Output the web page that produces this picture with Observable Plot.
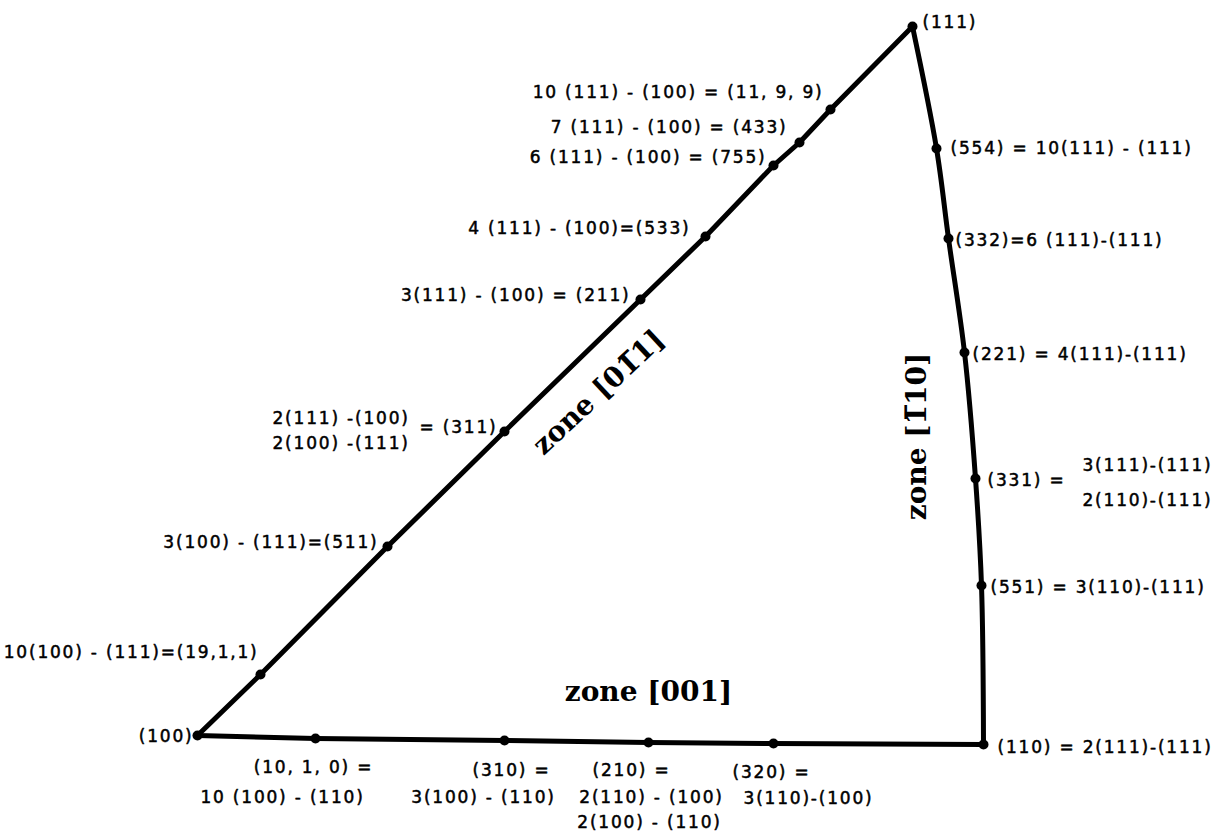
<!DOCTYPE html>
<html>
<head>
<meta charset="utf-8">
<script src="https://cdn.jsdelivr.net/npm/d3@7"></script>
<script src="https://cdn.jsdelivr.net/npm/@observablehq/plot@0.6"></script>
<style>
  html, body { margin: 0; padding: 0; background: #fff; }
  .lbl text { letter-spacing: 1.8px; }
  .zone text { letter-spacing: 0; }
</style>
</head>
<body>
<div id="chart"></div>
<script>
// Poles (stereographic positions, in picture units)
const poleName = ["(100)","(19,1,1)","(511)","(311)","(211)","(533)","(755)","(433)","(11,9,9)","(111)",
                  "(554)","(332)","(221)","(331)","(551)","(110)",
                  "(320)","(210)","(310)","(10,1,0)"];
const poleX = [197, 260, 387, 504, 640, 705, 773, 799, 830, 912,
               936, 948, 964, 975, 981, 983,
               773, 648, 504, 315];
const poleY = [735, 674, 546, 431, 299, 236, 165, 142, 109, 26,
               148, 238, 352, 478, 585, 744,
               743, 742, 740, 738];

// Zones: ordered pole lists
const zone011 = ["(100)","(19,1,1)","(511)","(311)","(211)","(533)","(755)","(433)","(11,9,9)","(111)"];
const zone110 = ["(111)","(554)","(332)","(221)","(331)","(551)","(110)"];
const zone001 = ["(100)","(10,1,0)","(310)","(210)","(320)","(110)"];

// Annotation labels
const labelText = [
  "10 (111) - (100) = (11, 9, 9)",
  "7 (111) - (100) = (433)",
  "6 (111) - (100) = (755)",
  "4 (111) - (100)=(533)",
  "3(111) - (100) = (211)",
  "= (311)",
  "3(100) - (111)=(511)",
  "10(100) - (111)=(19,1,1)",
  "(100)",
  "2(111) -(100)",
  "2(100) -(111)",
  "(111)",
  "(554) = 10(111) - (111)",
  "(332)=6 (111)-(111)",
  "(221) = 4(111)-(111)",
  "(331) =",
  "3(111)-(111)",
  "2(110)-(111)",
  "(551) = 3(110)-(111)",
  "(110) = 2(111)-(111)",
  "(10, 1, 0) =",
  "10 (100) - (110)",
  "(310) =",
  "3(100) - (110)",
  "(210) =",
  "2(110) - (100)",
  "2(100) - (110)",
  "(320) =",
  "3(110)-(100)"
];
const labelX = [823, 787, 766, 690, 630, 497, 378, 258, 193, 272, 272,
                922, 950, 955, 972, 987, 1082, 1082, 990, 997,
                313, 282, 511, 483, 631, 651, 649, 771, 808];
const labelY = [92, 127, 157, 228, 295, 427, 542, 652, 736, 418, 443,
                22, 148, 240, 354, 480, 465, 500, 587, 747,
                767, 797, 770, 797, 770, 797, 822, 772, 798];
const labelAnchor = ["end","end","end","end","end","end","end","end","end","start","start",
                     "start","start","start","start","start","start","start","start","start",
                     "middle","middle","middle","middle","middle","middle","middle","middle","middle"];

// Zone titles
const zoneTitle = ["zone [001]", "zone [01\u03051]", "zone [1\u030510]"];
const zoneTitleX = [648, 598, 917];
const zoneTitleY = [692, 392, 436];
const zoneTitleAngle = [0, -43, -90];

const poles = poleName.map((n, i) => ({name: n, x: poleX[i], y: poleY[i]}));
const byName = new Map(poles.map(p => [p.name, p]));
const path = (names) => names.map(n => byName.get(n));
const labels = labelText.map((t, i) => ({t, x: labelX[i], y: labelY[i], a: labelAnchor[i]}));
const titles = zoneTitle.map((t, i) => ({t, x: zoneTitleX[i], y: zoneTitleY[i], r: zoneTitleAngle[i]}));

const smallFont = "'DejaVu Sans', sans-serif";
const textMark = (anchor) => Plot.text(labels.filter(d => d.a === anchor), {
  x: "x", y: "y", text: "t", textAnchor: anchor, fontSize: 17,
  fontFamily: smallFont, fill: "black", stroke: "black", strokeWidth: 0.5, className: "lbl"
});

const chart = Plot.plot({
  width: 1214,
  height: 840,
  margin: 0,
  x: {domain: [0, 1214], range: [0, 1214], axis: null},
  y: {domain: [0, 840], range: [0, 840], axis: null},
  style: {background: "white"},
  marks: [
    Plot.line(path(zone011), {x: "x", y: "y", stroke: "black", strokeWidth: 5}),
    Plot.line(path(zone001), {x: "x", y: "y", stroke: "black", strokeWidth: 5}),
    Plot.line(path(zone110), {x: "x", y: "y", stroke: "black", strokeWidth: 5, curve: "catmull-rom"}),
    Plot.dot(poles, {x: "x", y: "y", r: 5, fill: "black"}),
    textMark("end"),
    textMark("start"),
    textMark("middle"),
    ...titles.map(d => Plot.text([d], {
      x: "x", y: "y", text: "t", rotate: d.r, fontSize: 28, fontWeight: "bold",
      fontFamily: "'DejaVu Serif', serif", fill: "black", className: "zone"
    }))
  ]
});
document.getElementById("chart").appendChild(chart);
</script>
</body>
</html>
